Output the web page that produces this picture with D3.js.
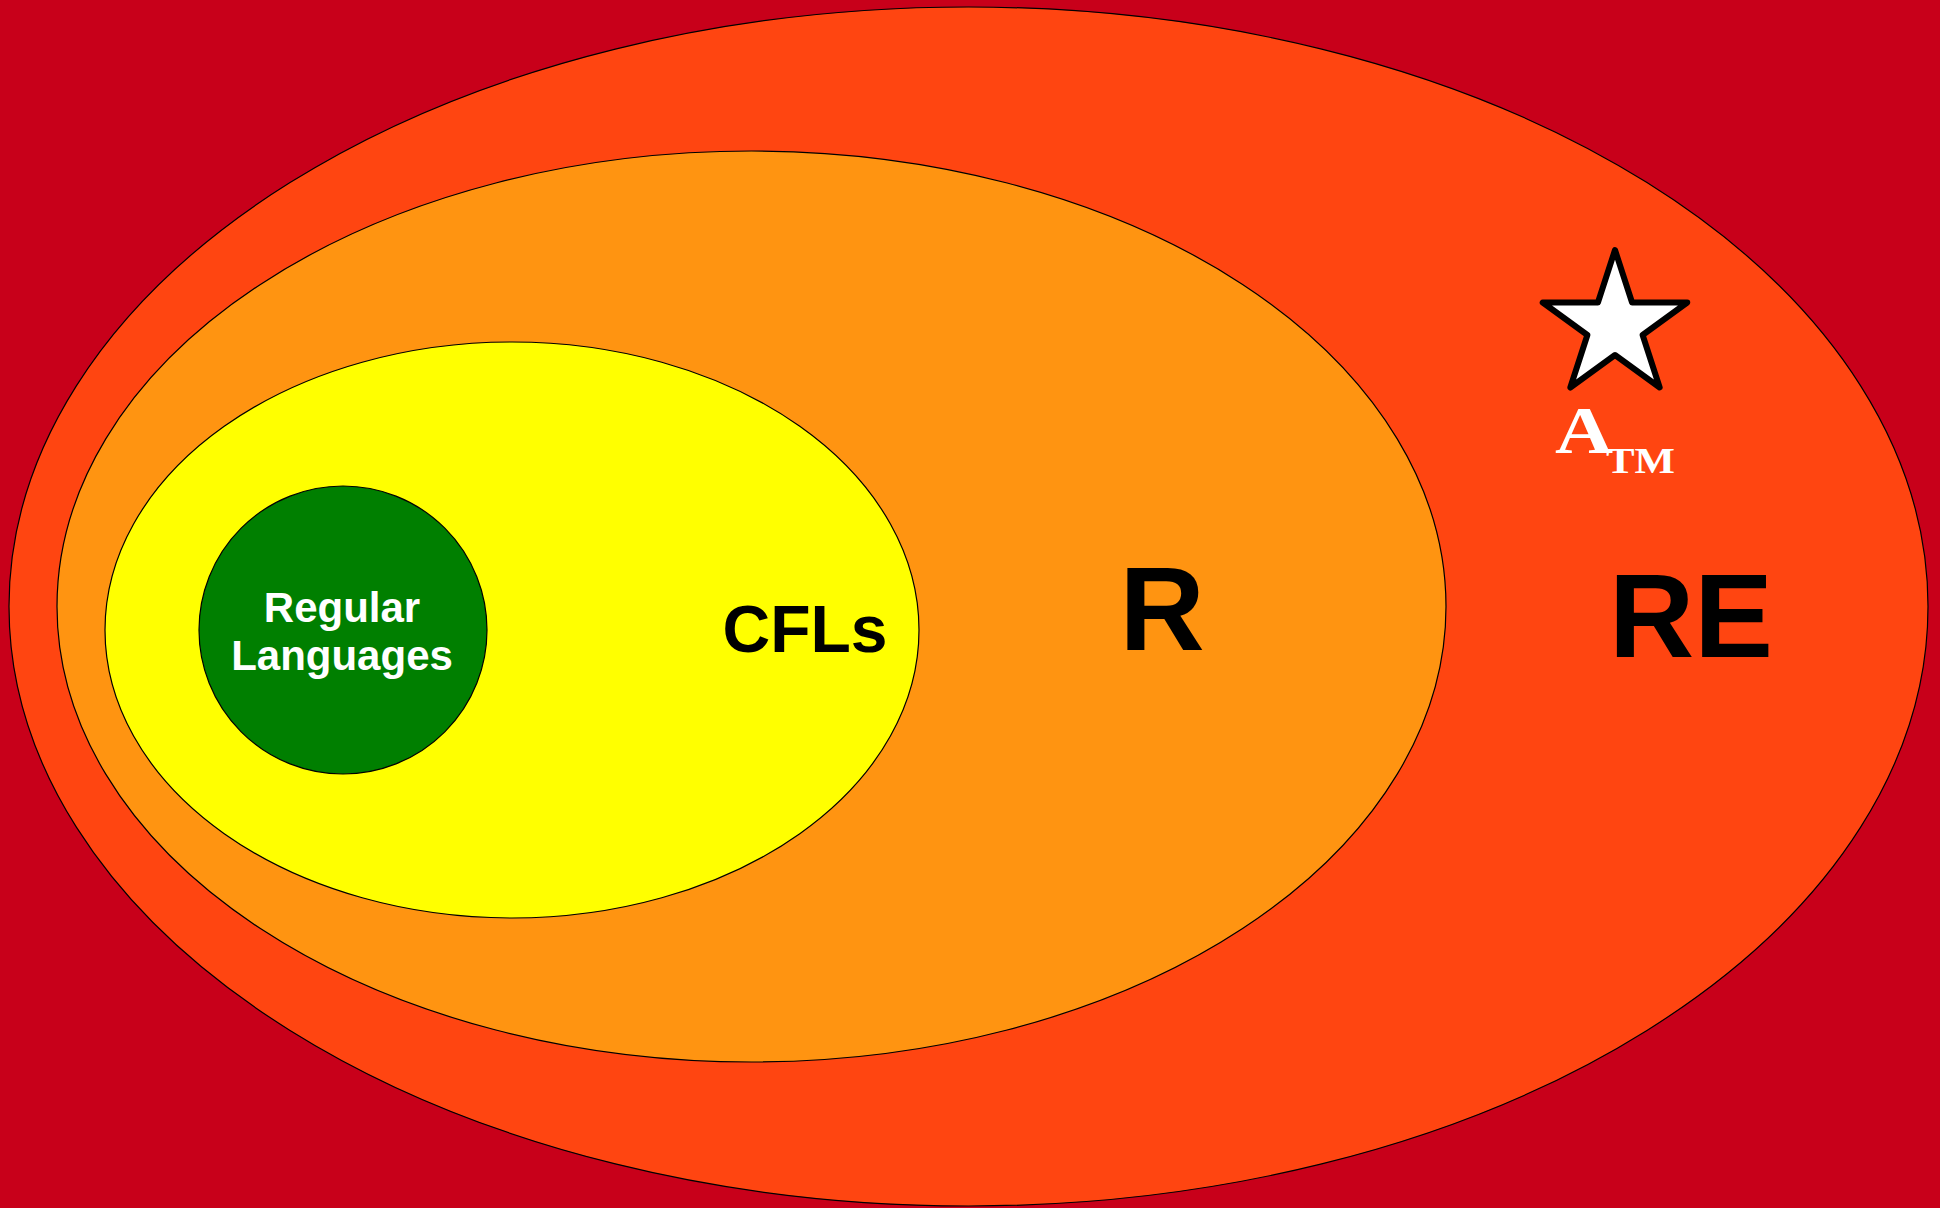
<!DOCTYPE html>
<html>
<head>
<meta charset="utf-8">
<script src="https://cdn.jsdelivr.net/npm/d3@7"></script>
<style>
  html, body { margin: 0; padding: 0; background: #c8001a; }
  svg { display: block; }
</style>
</head>
<body>
<svg id="chart" width="1940" height="1208"></svg>
<script>
// sets, outermost first, with their extents in diagram units
var setNames = ["RE", "R", "CFLs", "Regular Languages"];
var setLeft = [9, 57, 105, 199];
var setRight = [1928, 1446, 919, 487];
var setTop = [7, 151, 342, 486];
var setBottom = [1206, 1062, 918, 774];
var setColors = ["#ff4511", "#ff9411", "#ffff00", "#007f00"];

// label anchors (diagram units)
var labelX = [1691, 1162, 805, 342];
var labelY = [657, 650, 652, 622];

// the "A_TM" star marker
var starName = ["A", "TM"];
var starPos = [1615, 326];

var svg = d3.select("#chart"),
    width = +svg.attr("width"),
    height = +svg.attr("height");

var x = d3.scaleLinear().domain([0, 1940]).range([0, width]),
    y = d3.scaleLinear().domain([0, 1208]).range([0, height]);

var sets = setNames.map(function(name, i) {
    return {
        name: name,
        x0: setLeft[i], x1: setRight[i],
        y0: setTop[i], y1: setBottom[i],
        color: setColors[i],
        lx: labelX[i], ly: labelY[i]
    };
});

svg.append("rect")
    .attr("width", width)
    .attr("height", height)
    .attr("fill", "#c8001a");

svg.selectAll("ellipse.set")
    .data(sets)
    .enter()
    .append("ellipse")
    .attr("class", "set")
    .attr("cx", function(d) { return x((d.x0 + d.x1) / 2); })
    .attr("cy", function(d) { return y((d.y0 + d.y1) / 2); })
    .attr("rx", function(d) { return x(d.x1) - x((d.x0 + d.x1) / 2); })
    .attr("ry", function(d) { return y(d.y1) - y((d.y0 + d.y1) / 2); })
    .attr("fill", function(d) { return d.color; })
    .attr("stroke", "#000")
    .attr("stroke-width", 1.2);

// big labels
var big = sets.slice(0, 3);
var sizes = [118, 118, 66];
svg.selectAll("text.big")
    .data(big)
    .enter()
    .append("text")
    .attr("class", "big")
    .attr("x", function(d) { return x(d.lx); })
    .attr("y", function(d) { return y(d.ly); })
    .attr("text-anchor", "middle")
    .attr("font-family", "'Liberation Sans', Arial, sans-serif")
    .attr("font-weight", "bold")
    .attr("font-size", function(d, i) { return sizes[i] + "px"; })
    .attr("fill", "#000")
    .text(function(d) { return d.name; });

// two line label in the circle
var reg = sets[3];
var regText = svg.append("text")
    .attr("text-anchor", "middle")
    .attr("font-family", "'Liberation Sans', Arial, sans-serif")
    .attr("font-weight", "bold")
    .attr("font-size", "42px")
    .attr("fill", "#fff");
reg.name.split(" ").forEach(function(word, i) {
    regText.append("tspan")
        .attr("x", x(reg.lx))
        .attr("y", y(reg.ly + i * 48))
        .text(word);
});

// star
var outerR = 76, innerR = outerR * 0.382;
var starPts = d3.range(10).map(function(i) {
    var r = i % 2 === 0 ? outerR : innerR;
    var a = i * Math.PI / 5;
    return [x(starPos[0]) + r * Math.sin(a), y(starPos[1]) - r * Math.cos(a)];
});
svg.append("path")
    .attr("d", d3.line()(starPts) + "Z")
    .attr("fill", "#fff")
    .attr("stroke", "#000")
    .attr("stroke-width", 6)
    .attr("stroke-linejoin", "round");

// A with subscript TM, glyphs a bit wider than Times
svg.append("text")
    .attr("x", x(1555))
    .attr("y", y(453))
    .attr("font-family", "'Liberation Serif', 'Times New Roman', serif")
    .attr("font-weight", "bold")
    .attr("font-size", "68px")
    .attr("fill", "#fff")
    .attr("textLength", 58)
    .attr("lengthAdjust", "spacingAndGlyphs")
    .text(starName[0]);
svg.append("text")
    .attr("x", x(1606))
    .attr("y", y(473))
    .attr("font-family", "'Liberation Serif', 'Times New Roman', serif")
    .attr("font-weight", "bold")
    .attr("font-size", "36px")
    .attr("fill", "#fff")
    .attr("textLength", 69)
    .attr("lengthAdjust", "spacingAndGlyphs")
    .text(starName[1]);
</script>
</body>
</html>
